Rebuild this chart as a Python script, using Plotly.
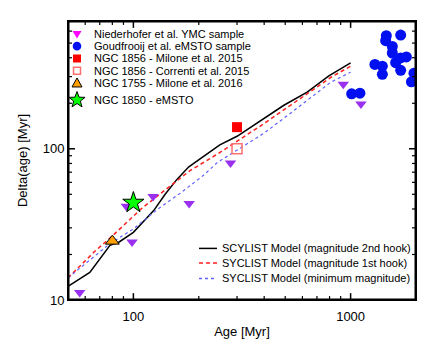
import math
import plotly.graph_objects as go

# ---- data ----
hook2_age = [50, 63, 78, 86, 100, 124, 140, 159, 180, 204, 250, 300, 400, 493, 631, 794, 1000]
hook2_dage = [12.3, 15.2, 23, 24.2, 28, 39, 50, 63, 76, 86, 106, 121, 158, 194, 237, 303, 370]
hook1_age = [50, 66, 80, 108, 153, 183, 243, 300, 400, 529, 809, 1000]
hook1_dage = [14, 20.8, 26.5, 39.8, 59, 72, 92, 112, 147, 194, 296, 352]
minmag_age = [50, 78, 100, 129, 165, 211, 243, 290, 400, 529, 809, 1000]
minmag_dage = [14, 23.6, 29.5, 39.8, 51, 67, 81, 94.6, 127, 172, 275, 321]

nied_age = [56.6, 92.8, 98.6, 123.2, 180.6, 280, 925, 1116]
nied_dage = [11.2, 41.7, 24.2, 48.4, 43.5, 80.4, 267, 198]

goud_age = [1460, 1450, 1700, 1556, 1556, 1612, 1700, 1806, 1700, 1294, 1400, 1400, 1905, 1957, 1011, 1104]
goud_dage = [559, 519, 565, 475, 430, 371, 399, 405, 330, 361, 352, 311, 277, 316, 231, 233]

milone15_age, milone15_dage = [300], [139]
correnti_age, correnti_dage = [300], [100]
milone16_age, milone16_dage = [80], [24.5]
n1850_age, n1850_dage = [100], [44]

x_ticks = [100, 1000]
x_minor = [60, 70, 80, 90, 200, 300, 400, 500, 600, 700, 800, 900]
y_ticks = [10, 100]
y_minor = [20, 30, 40, 50, 60, 70, 80, 90, 200, 300, 400, 500, 600]

legend_labels = ["Niederhofer et al. YMC sample", "Goudfrooij et al. eMSTO sample",
                 "NGC 1856 - Milone et al. 2015", "NGC 1856 - Correnti et al. 2015",
                 "NGC 1755 - Milone et al. 2016", "NGC 1850 - eMSTO"]
line_labels = ["SCYLIST Model (magnitude 2nd hook)", "SYCLIST Model (magnitude 1st hook)",
               "SYCLIST Model (minimum magnitude)"]

FONT = "Liberation Sans, Arial, sans-serif"
PURPLE = "#9a2ff0"
BLUE = "#0010f0"
RED = "#ff0000"
PINK = "#ff7070"
ORANGE = "#ffa000"
GREEN = "#00ff00"
DASH_RED = "#ff2020"
DOT_BLUE = "#6060ff"

X_MIN, X_MAX = 50, 2000
Y_MIN, Y_MAX = 10, 10 ** 2.845

# plot-area geometry (page pixels); the page body has an 8px margin
PL, PR, PT, PB = 68, 416, 21, 306
OFF = 8
W, H = 436 - OFF, 349 - OFF


def px(xp):
    return (xp - PL) / (PR - PL)


def py(yp):
    return (PB - yp) / (PB - PT)


fig = go.Figure()

fig.add_trace(go.Scatter(x=hook2_age, y=hook2_dage, mode="lines",
                         line=dict(color="black", width=1.5), showlegend=False))
fig.add_trace(go.Scatter(x=hook1_age, y=hook1_dage, mode="lines",
                         line=dict(color=DASH_RED, width=1.5, dash="4px,3px"), showlegend=False))
fig.add_trace(go.Scatter(x=minmag_age, y=minmag_dage, mode="lines",
                         line=dict(color=DOT_BLUE, width=1.2, dash="dot"), showlegend=False))

fig.add_trace(go.Scatter(x=nied_age, y=nied_dage, mode="markers",
                         marker=dict(symbol="triangle-down", size=10, color=PURPLE), showlegend=False))
fig.add_trace(go.Scatter(x=goud_age, y=goud_dage, mode="markers",
                         marker=dict(symbol="circle", size=11, color=BLUE), showlegend=False))
fig.add_trace(go.Scatter(x=milone15_age, y=milone15_dage, mode="markers",
                         marker=dict(symbol="square", size=10, color=RED), showlegend=False))
fig.add_trace(go.Scatter(x=correnti_age, y=correnti_dage, mode="markers",
                         marker=dict(symbol="square-open", size=10, color=PINK,
                                     line=dict(width=1.5)), showlegend=False))
fig.add_trace(go.Scatter(x=milone16_age, y=milone16_dage, mode="markers",
                         marker=dict(symbol="triangle-up", size=12, color=ORANGE,
                                     line=dict(color="black", width=1)), showlegend=False))
fig.add_trace(go.Scatter(x=n1850_age, y=n1850_dage, mode="markers",
                         marker=dict(symbol="star", size=16, color=GREEN,
                                     line=dict(color="black", width=1)), showlegend=False))

# ---- frame and inside tick marks drawn as line traces on the main axes ----
fig.add_trace(go.Scatter(x=[X_MIN, X_MAX, X_MAX, X_MIN, X_MIN], y=[Y_MIN, Y_MIN, Y_MAX, Y_MAX, Y_MIN],
                         mode="lines", line=dict(color="black", width=3), showlegend=False,
                         hoverinfo="skip"))

px_per_dec_y = (PB - PT) / (math.log10(Y_MAX) - math.log10(Y_MIN))
px_per_dec_x = (PR - PL) / (math.log10(X_MAX) - math.log10(X_MIN))
for vals, ln, w in ((x_ticks, 7, 1.5), (x_minor, 4, 1.2)):
    f = 10 ** (ln / px_per_dec_y)
    tx, ty = [], []
    for v in vals:
        tx += [v, v, None, v, v, None]
        ty += [Y_MIN, Y_MIN * f, None, Y_MAX, Y_MAX / f, None]
    fig.add_trace(go.Scatter(x=tx, y=ty, mode="lines", line=dict(color="black", width=w),
                             showlegend=False, hoverinfo="skip"))
for vals, ln, w in ((y_ticks, 7, 1.5), (y_minor, 4, 1.2)):
    f = 10 ** (ln / px_per_dec_x)
    tx, ty = [], []
    for v in vals:
        tx += [X_MIN, X_MIN * f, None, X_MAX, X_MAX / f, None]
        ty += [v, v, None, v, v, None]
    fig.add_trace(go.Scatter(x=tx, y=ty, mode="lines", line=dict(color="black", width=w),
                             showlegend=False, hoverinfo="skip"))

# ---- custom legend (symbols as pixel-sized shapes, text as annotations) ----
leg_y = [34.3, 46.7, 59.3, 71.7, 84.3, 101.7]
SYM_X = 77
TXT_X = 92


def pix_shape(yp, **kw):
    d = dict(xref="paper", yref="paper", xsizemode="pixel", ysizemode="pixel",
             xanchor=px(SYM_X), yanchor=py(yp))
    d.update(kw)
    fig.add_shape(**d)


pix_shape(leg_y[0], type="path", path="M-4.5,3 L4.5,3 L0,-4.5 Z",
          fillcolor="#ff00ff", line=dict(width=0))
pix_shape(leg_y[1], type="circle", x0=-4.3, x1=4.3, y0=-4.3, y1=4.3,
          fillcolor=BLUE, line=dict(width=0))
pix_shape(leg_y[2], type="rect", x0=-4, x1=4, y0=-4, y1=4,
          fillcolor=RED, line=dict(width=0))
pix_shape(leg_y[3], type="rect", x0=-3.5, x1=3.5, y0=-3.5, y1=3.5,
          line=dict(color=PINK, width=1.5))
pix_shape(leg_y[4], type="path", path="M-5,-4 L5,-4 L0,5 Z",
          fillcolor=ORANGE, line=dict(color="black", width=1))
star_pts = []
for k in range(10):
    r = 8.5 if k % 2 == 0 else 3.5
    a = math.radians(90 + 36 * k)
    star_pts.append("%.2f,%.2f" % (r * math.cos(a), r * math.sin(a)))
pix_shape(leg_y[5], type="path", path="M" + " L".join(star_pts) + " Z",
          fillcolor=GREEN, line=dict(color="black", width=1))

for yy, lab in zip(leg_y, legend_labels):
    fig.add_annotation(x=px(TXT_X), y=py(yy), xref="paper", yref="paper", text=lab,
                       showarrow=False, xanchor="left", yanchor="middle",
                       font=dict(size=11, color="black", family=FONT))

line_y = [253.3, 268.3, 284]
line_col = ["black", DASH_RED, DOT_BLUE]
line_dash = ["solid", "4px,3px", "dot"]
for yy, lab, c, d in zip(line_y, line_labels, line_col, line_dash):
    fig.add_shape(type="line", x0=px(199), x1=px(217), y0=py(yy), y1=py(yy),
                  xref="paper", yref="paper", line=dict(color=c, width=1.5, dash=d))
    fig.add_annotation(x=px(220), y=py(yy), xref="paper", yref="paper", text=lab,
                       showarrow=False, xanchor="left", yanchor="middle",
                       font=dict(size=11, color="black", family=FONT))

axis_common = dict(showgrid=False, zeroline=False, showline=True, linecolor="black", linewidth=1,
                   mirror=True, ticks="",
                   tickfont=dict(size=13, color="black", family=FONT))

fig.update_layout(
    width=W, height=H,
    margin=dict(l=PL - OFF, r=436 - PR, t=PT - OFF, b=349 - PB),
    paper_bgcolor="white", plot_bgcolor="white",
    showlegend=False,
    xaxis=dict(type="log", range=[math.log10(X_MIN), math.log10(X_MAX)], tickvals=x_ticks,
               ticktext=["100", "1000"], ticklabelstandoff=4,
               title=dict(text="Age [Myr]", font=dict(size=13, color="black", family=FONT), standoff=4),
               **axis_common),
    yaxis=dict(type="log", range=[math.log10(Y_MIN), math.log10(Y_MAX)], tickvals=y_ticks,
               ticktext=["10", "100"],
               title=dict(text="Delta(age) [Myr]", font=dict(size=13, color="black", family=FONT), standoff=12),
               **axis_common),
)

fig.write_html("out.html")
